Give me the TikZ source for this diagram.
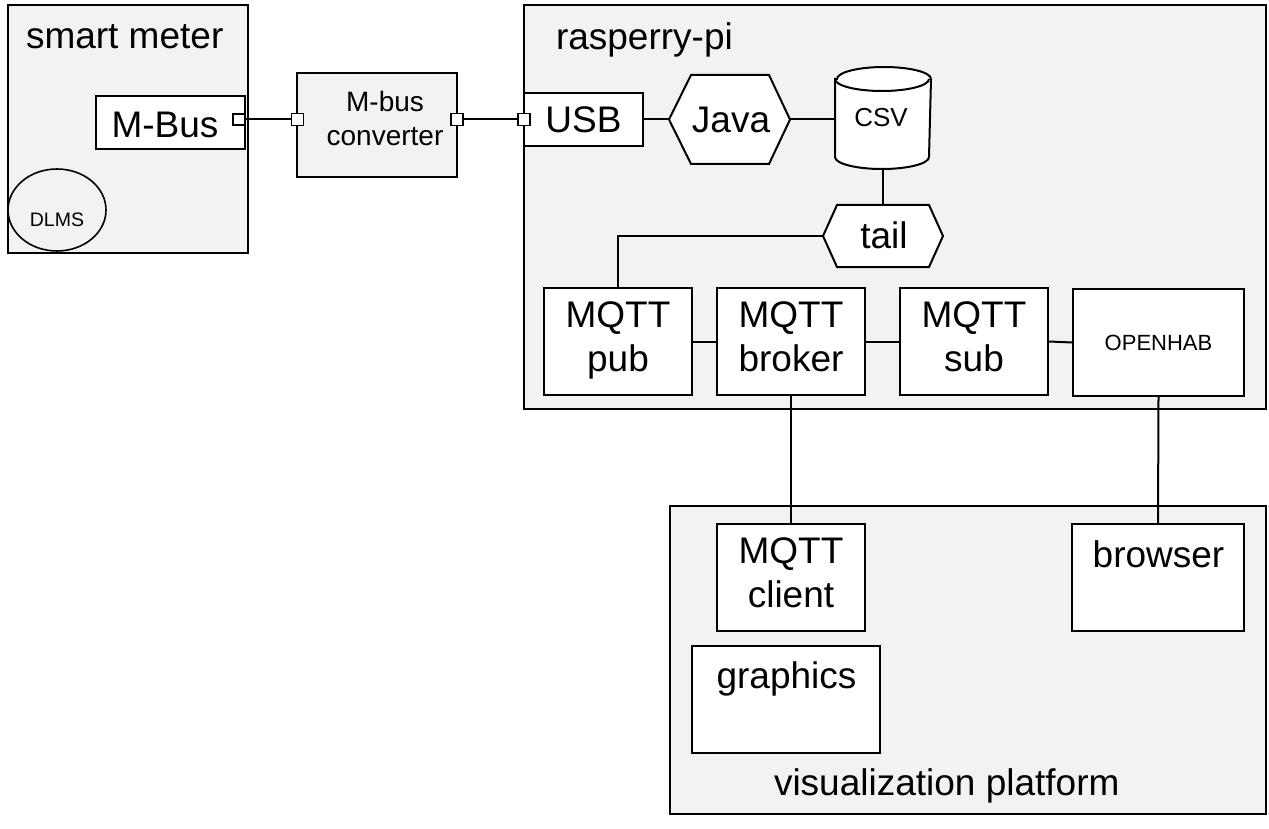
\documentclass[tikz,border=0pt]{standalone}
\usepackage{fontspec}
\setmainfont{Liberation Sans}
\usetikzlibrary{shapes.geometric}
\definecolor{panel}{HTML}{F2F2F2}
\newcommand\tallstrut{\rule[-9pt]{0pt}{34pt}}
\newcommand\midstrut{\rule[-7pt]{0pt}{27pt}}
\begin{document}
\begin{tikzpicture}[x=1pt,y=-1pt,line width=2pt,
  container/.style={draw,fill=panel,inner sep=0pt},
  whitebox/.style={draw,fill=white,inner sep=0pt},
  shapeholder/.style={inner sep=0pt},
  portbox/.style={draw,fill=white,minimum width=12pt,minimum height=12pt,inner sep=0pt,line width=1.6pt},
  bigtext/.style={font=\fontsize{37}{44}\selectfont,inner sep=0pt},
  convtext/.style={font=\fontsize{28}{34.3}\selectfont,inner sep=0pt,align=center},
  mqttbox/.style={whitebox,minimum width=148pt,minimum height=107pt,align=center,font=\fontsize{37}{44}\selectfont},
  link/.style={line width=2pt}]
\useasboundingbox (0,0) rectangle (1269,829);
% containers
\node[container,minimum width=240pt,minimum height=248pt] (meter) at (128,129) {};
\node[container,minimum width=742pt,minimum height=404pt] (rasp) at (895,207) {};
\node[container,minimum width=596pt,minimum height=308pt] (vis) at (968,660) {};
% smart meter parts
\node[whitebox,minimum width=149pt,minimum height=53pt] (mbus) at (170.5,122.5) {};
\node[draw,ellipse,line width=1.6pt,minimum width=98pt,minimum height=82pt,inner sep=0pt] (dlms) at (57,210) {};
% converter
\node[container,minimum width=160pt,minimum height=104pt] (conv) at (377,125) {};
% rasperry-pi parts
\node[whitebox,minimum width=119pt,minimum height=53pt,font=\fontsize{37}{44}\selectfont] (usb) at (583.5,119.5) {USB};
\node[shapeholder,minimum width=119pt,minimum height=87pt] (java) at (729.5,119.5) {};
\draw[fill=white] (java.west) -- ([xshift=22pt]java.north west) -- ([xshift=-21pt]java.north east)
  -- (java.east) -- ([xshift=-21pt]java.south east) -- ([xshift=22pt]java.south west) -- cycle;
\node[shapeholder,minimum width=94pt,minimum height=100pt] (csv) at (883,118) {};
\draw[fill=white] ([yshift=-12pt]csv.north west) -- ([yshift=12pt]csv.south west)
  arc[start angle=180,end angle=360,x radius=47pt,y radius=12pt]
  -- ([yshift=-12pt]csv.north east)
  arc[start angle=0,end angle=180,x radius=47pt,y radius=12pt] -- cycle;
\draw ([yshift=-12pt]csv.north west) arc[start angle=180,end angle=360,x radius=47pt,y radius=12pt];
\node[shapeholder,minimum width=118pt,minimum height=60pt] (tail) at (883,236) {};
\draw[fill=white] (tail.west) -- ([xshift=14pt]tail.north west) -- ([xshift=-14pt]tail.north east)
  -- (tail.east) -- ([xshift=-14pt]tail.south east) -- ([xshift=14pt]tail.south west) -- cycle;
\node[mqttbox] (pub) at (618,341.5) {\tallstrut MQTT\\\tallstrut pub};
\node[mqttbox] (broker) at (791,341.5) {\tallstrut MQTT\\\tallstrut broker};
\node[mqttbox] (sub) at (974,341.5) {\tallstrut MQTT\\\tallstrut sub};
\node[whitebox,minimum width=171pt,minimum height=107pt,font=\fontsize{22}{26}\selectfont] (openhab) at (1158.5,342.5) {OPENHAB};
% visualization parts
\node[mqttbox] (client) at (791,577.5) {\tallstrut MQTT\\\tallstrut client};
\node[whitebox,minimum width=172pt,minimum height=107pt] (browser) at (1158,577.5) {};
\node[whitebox,minimum width=188pt,minimum height=107pt] (graphics) at (786,699.5) {};
% ports
\node[portbox,minimum height=11pt] (mbusport) at (239,119.5) {};
\node[portbox] (convL) at (297.5,119.5) {};
\node[portbox] (convR) at (457,119.5) {};
\node[portbox] (usbport) at (524,119.5) {};
% connectors
\draw[link] (mbusport.east) -- (convL.west);
\draw[link] (convR.east) -- (usbport.west);
\draw[link] (usb.east) -- (java.west);
\draw[link] (java.east) -- (java.east -| csv.west);
\draw[link] (csv.south) -- (tail.north);
\draw[link] (tail.west) -| (pub.north);
\draw[link] (pub.east) -- (broker.west);
\draw[link] (broker.east) -- (sub.west);
\draw[link] (sub.east) -- (openhab.west);
\draw[link] (broker.south) -- (client.north);
\draw[link] (openhab.south) -- (browser.north);
% labels
\node[bigtext,anchor=base west] (metertitle) at (25,49) {smart meter};
\node[bigtext,anchor=base west] (rasptitle) at (555,50) {rasperry-pi};
\node[bigtext,anchor=base west] (vistitle) at (773,795) {visualization platform};
\node[bigtext,anchor=base] (mbustext) at (165,138) {M-Bus};
\node[font=\fontsize{19.5}{23}\selectfont,inner sep=0pt,anchor=base] (dlmstext) at (57,226.7) {DLMS};
\node[convtext] (convtext) at (385,122) {\midstrut M-bus\\\midstrut converter};
\node[bigtext,anchor=base] (javatext) at (731,132.7) {Java};
\node[font=\fontsize{26}{30}\selectfont,inner sep=0pt,anchor=base] (csvtext) at (881,127) {CSV};
\node[bigtext,anchor=base] (tailtext) at (884,248) {tail};
\node[bigtext,anchor=base] (browsertext) at (1158.5,567) {browser};
\node[bigtext,anchor=base] (graphicstext) at (786.5,688) {graphics};
\end{tikzpicture}
\end{document}
